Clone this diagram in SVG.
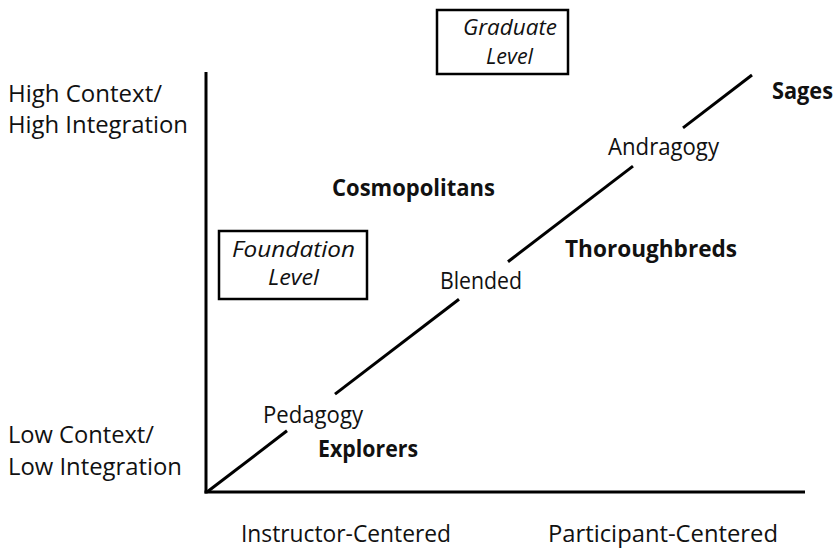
<svg xmlns="http://www.w3.org/2000/svg" width="839" height="548" viewBox="0 0 839 548">
<style>
text{font-family:"Open Sans","Noto Sans","DejaVu Sans",sans-serif;font-size:24px;fill:#111;}
.b{font-weight:bold;}
.i{font-style:italic;font-size:22px;}
.ln{stroke:#000;stroke-width:3;fill:none;}
.box{stroke:#000;stroke-width:2.5;fill:#fff;}
</style>
<rect width="839" height="548" fill="#fff"/>
<g id="connectors">
<line class="ln" x1="206" y1="72" x2="206" y2="493.5"/>
<line class="ln" x1="204.5" y1="492" x2="805" y2="492"/>
<line class="ln" x1="207" y1="492" x2="287" y2="430.8"/>
<line class="ln" x1="335" y1="394.1" x2="459" y2="299.2"/>
<line class="ln" x1="508" y1="261.7" x2="633" y2="166.1"/>
<line class="ln" x1="683" y1="127.9" x2="752" y2="75"/>
</g>
<g id="graduate">
<rect class="box" x="437" y="10" width="131" height="64"/>
<text class="i" x="463" y="35" textLength="94" lengthAdjust="spacingAndGlyphs">Graduate</text>
<text class="i" x="486" y="64" textLength="47" lengthAdjust="spacingAndGlyphs">Level</text>
</g>
<g id="foundation">
<rect class="box" x="219" y="231" width="148" height="68"/>
<text class="i" x="232" y="257" textLength="123" lengthAdjust="spacingAndGlyphs">Foundation</text>
<text class="i" x="268" y="285" textLength="51" lengthAdjust="spacingAndGlyphs">Level</text>
</g>
<g id="y-high">
<text x="8" y="102" textLength="154" lengthAdjust="spacingAndGlyphs">High Context/</text>
<text x="8" y="133" textLength="180" lengthAdjust="spacingAndGlyphs">High Integration</text>
</g>
<g id="y-low">
<text x="8" y="443" textLength="146" lengthAdjust="spacingAndGlyphs">Low Context/</text>
<text x="8" y="475" textLength="174" lengthAdjust="spacingAndGlyphs">Low Integration</text>
</g>
<g id="x-instructor">
<text x="241" y="542" textLength="210" lengthAdjust="spacingAndGlyphs">Instructor-Centered</text>
</g>
<g id="x-participant">
<text x="548" y="542" textLength="230" lengthAdjust="spacingAndGlyphs">Participant-Centered</text>
</g>
<g id="pedagogy">
<text x="263" y="423" textLength="100" lengthAdjust="spacingAndGlyphs">Pedagogy</text>
</g>
<g id="blended">
<text x="440" y="289" textLength="82" lengthAdjust="spacingAndGlyphs">Blended</text>
</g>
<g id="andragogy">
<text x="608" y="155" textLength="111" lengthAdjust="spacingAndGlyphs">Andragogy</text>
</g>
<g id="explorers">
<text class="b" x="318" y="457" textLength="100" lengthAdjust="spacingAndGlyphs">Explorers</text>
</g>
<g id="cosmopolitans">
<text class="b" x="332" y="196" textLength="163" lengthAdjust="spacingAndGlyphs">Cosmopolitans</text>
</g>
<g id="thoroughbreds">
<text class="b" x="565" y="257" textLength="172" lengthAdjust="spacingAndGlyphs">Thoroughbreds</text>
</g>
<g id="sages">
<text class="b" x="772" y="99" textLength="61" lengthAdjust="spacingAndGlyphs">Sages</text>
</g>
</svg>
